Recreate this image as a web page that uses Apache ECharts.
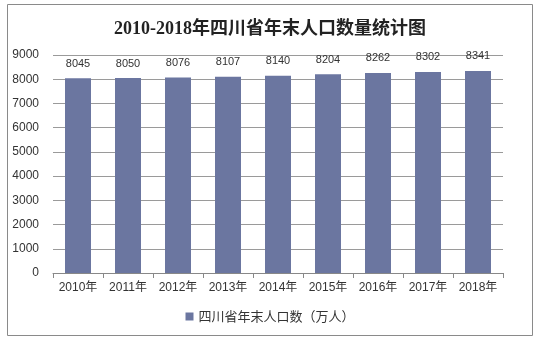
<!DOCTYPE html>
<html><head><meta charset="utf-8">
<script src="https://cdn.jsdelivr.net/npm/echarts@6/dist/echarts.min.js"></script>
<style>html,body{margin:0;padding:0;background:#fff}#c{width:540px;height:340px}</style>
</head><body><div id="c"></div>
<script>
const categories = ['2010年','2011年','2012年','2013年','2014年','2015年','2016年','2017年','2018年'];
const population = [8045,8050,8076,8107,8140,8204,8262,8302,8341];
const seriesName = '四川省年末人口数（万人）';
const titleText = '2010-2018年四川省年末人口数量统计图';

const chart = echarts.init(document.getElementById('c'), null, {renderer:'canvas'});
chart.setOption({
  animation:false,
  backgroundColor:'#fff',
  graphic:[{type:'rect',shape:{x:7.5,y:4.5,width:525,height:331},style:{fill:'none',stroke:'#8a8a8a',lineWidth:1},silent:true}],
  title:{text:titleText,left:'center',top:15,textStyle:{fontFamily:'"Liberation Serif","Noto Sans CJK SC",serif',fontWeight:'bold',fontSize:18,color:'#222'}},
  grid:{left:53,right:37,top:55,bottom:67,containLabel:false},
  legend:{bottom:12,left:'center',itemWidth:8,itemHeight:8,icon:'rect',itemGap:4,textStyle:{fontFamily:'"Noto Sans CJK SC",sans-serif',fontSize:13,color:'#333'},data:[seriesName]},
  xAxis:{type:'category',data:categories,axisLine:{lineStyle:{color:'#888'}},axisTick:{show:true,lineStyle:{color:'#888'}},
    axisLabel:{interval:0,fontFamily:'"Liberation Sans","Noto Sans CJK SC",sans-serif',fontSize:12,color:'#333',margin:9}},
  yAxis:{type:'value',min:0,max:9000,interval:1000,axisLine:{show:false},axisTick:{show:false},
    splitLine:{lineStyle:{color:'#9a9a9a'}},
    axisLabel:{formatter:v=>String(v),fontFamily:'"Liberation Sans",sans-serif',fontSize:12,color:'#333',margin:14}},
  series:[{name:seriesName,type:'bar',data:population,barWidth:26,itemStyle:{color:'#6B76A0'},
    label:{show:true,position:'top',distance:9,fontFamily:'"Liberation Sans",sans-serif',fontSize:11,color:'#333'}}]
});
</script></body></html>
